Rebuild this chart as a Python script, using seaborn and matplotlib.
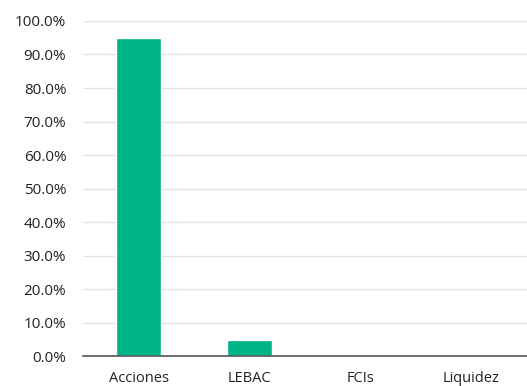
import matplotlib
matplotlib.use("Agg")
import matplotlib.pyplot as plt
import seaborn as sns
import pandas as pd
from matplotlib.ticker import FuncFormatter, MultipleLocator

categorias = ["Acciones", "LEBAC", "FCIs", "Liquidez"]
participacion = [0.949, 0.048, 0.004, 0.002]

df = pd.DataFrame({"categoria": categorias, "participacion": participacion})

sns.set_theme(style="white")
plt.rcParams["font.family"] = ["Open Sans", "DejaVu Sans"]

fig = plt.figure(figsize=(5.27, 3.86), dpi=100)
ax = fig.add_axes([0.1575, 0.0777, 0.8425, 0.8679])

sns.barplot(data=df, x="categoria", y="participacion", color="#00B48A",
            width=0.4, saturation=1, ax=ax, zorder=3)

ax.set_xlim(-0.5, 3.5)
ax.set_ylim(0, 1.0)
ax.yaxis.set_major_locator(MultipleLocator(0.1))
ax.yaxis.set_major_formatter(FuncFormatter(lambda v, p: f"{v*100:.1f}%"))
ax.grid(axis="y", color="#e3e3e3", linewidth=1, zorder=0)
ax.set_axisbelow(True)

for s in ["top", "right", "left"]:
    ax.spines[s].set_visible(False)
ax.spines["bottom"].set_color("#555555")
ax.spines["bottom"].set_linewidth(1.2)
ax.spines["bottom"].set_zorder(4)

ax.set_xlabel("")
ax.set_ylabel("")
ax.tick_params(axis="y", length=0, pad=12, labelsize=11, labelcolor="#222222")
ax.tick_params(axis="x", length=0, pad=11, labelsize=10.5, labelcolor="#222222")

fig.savefig("out.png", dpi=100)
